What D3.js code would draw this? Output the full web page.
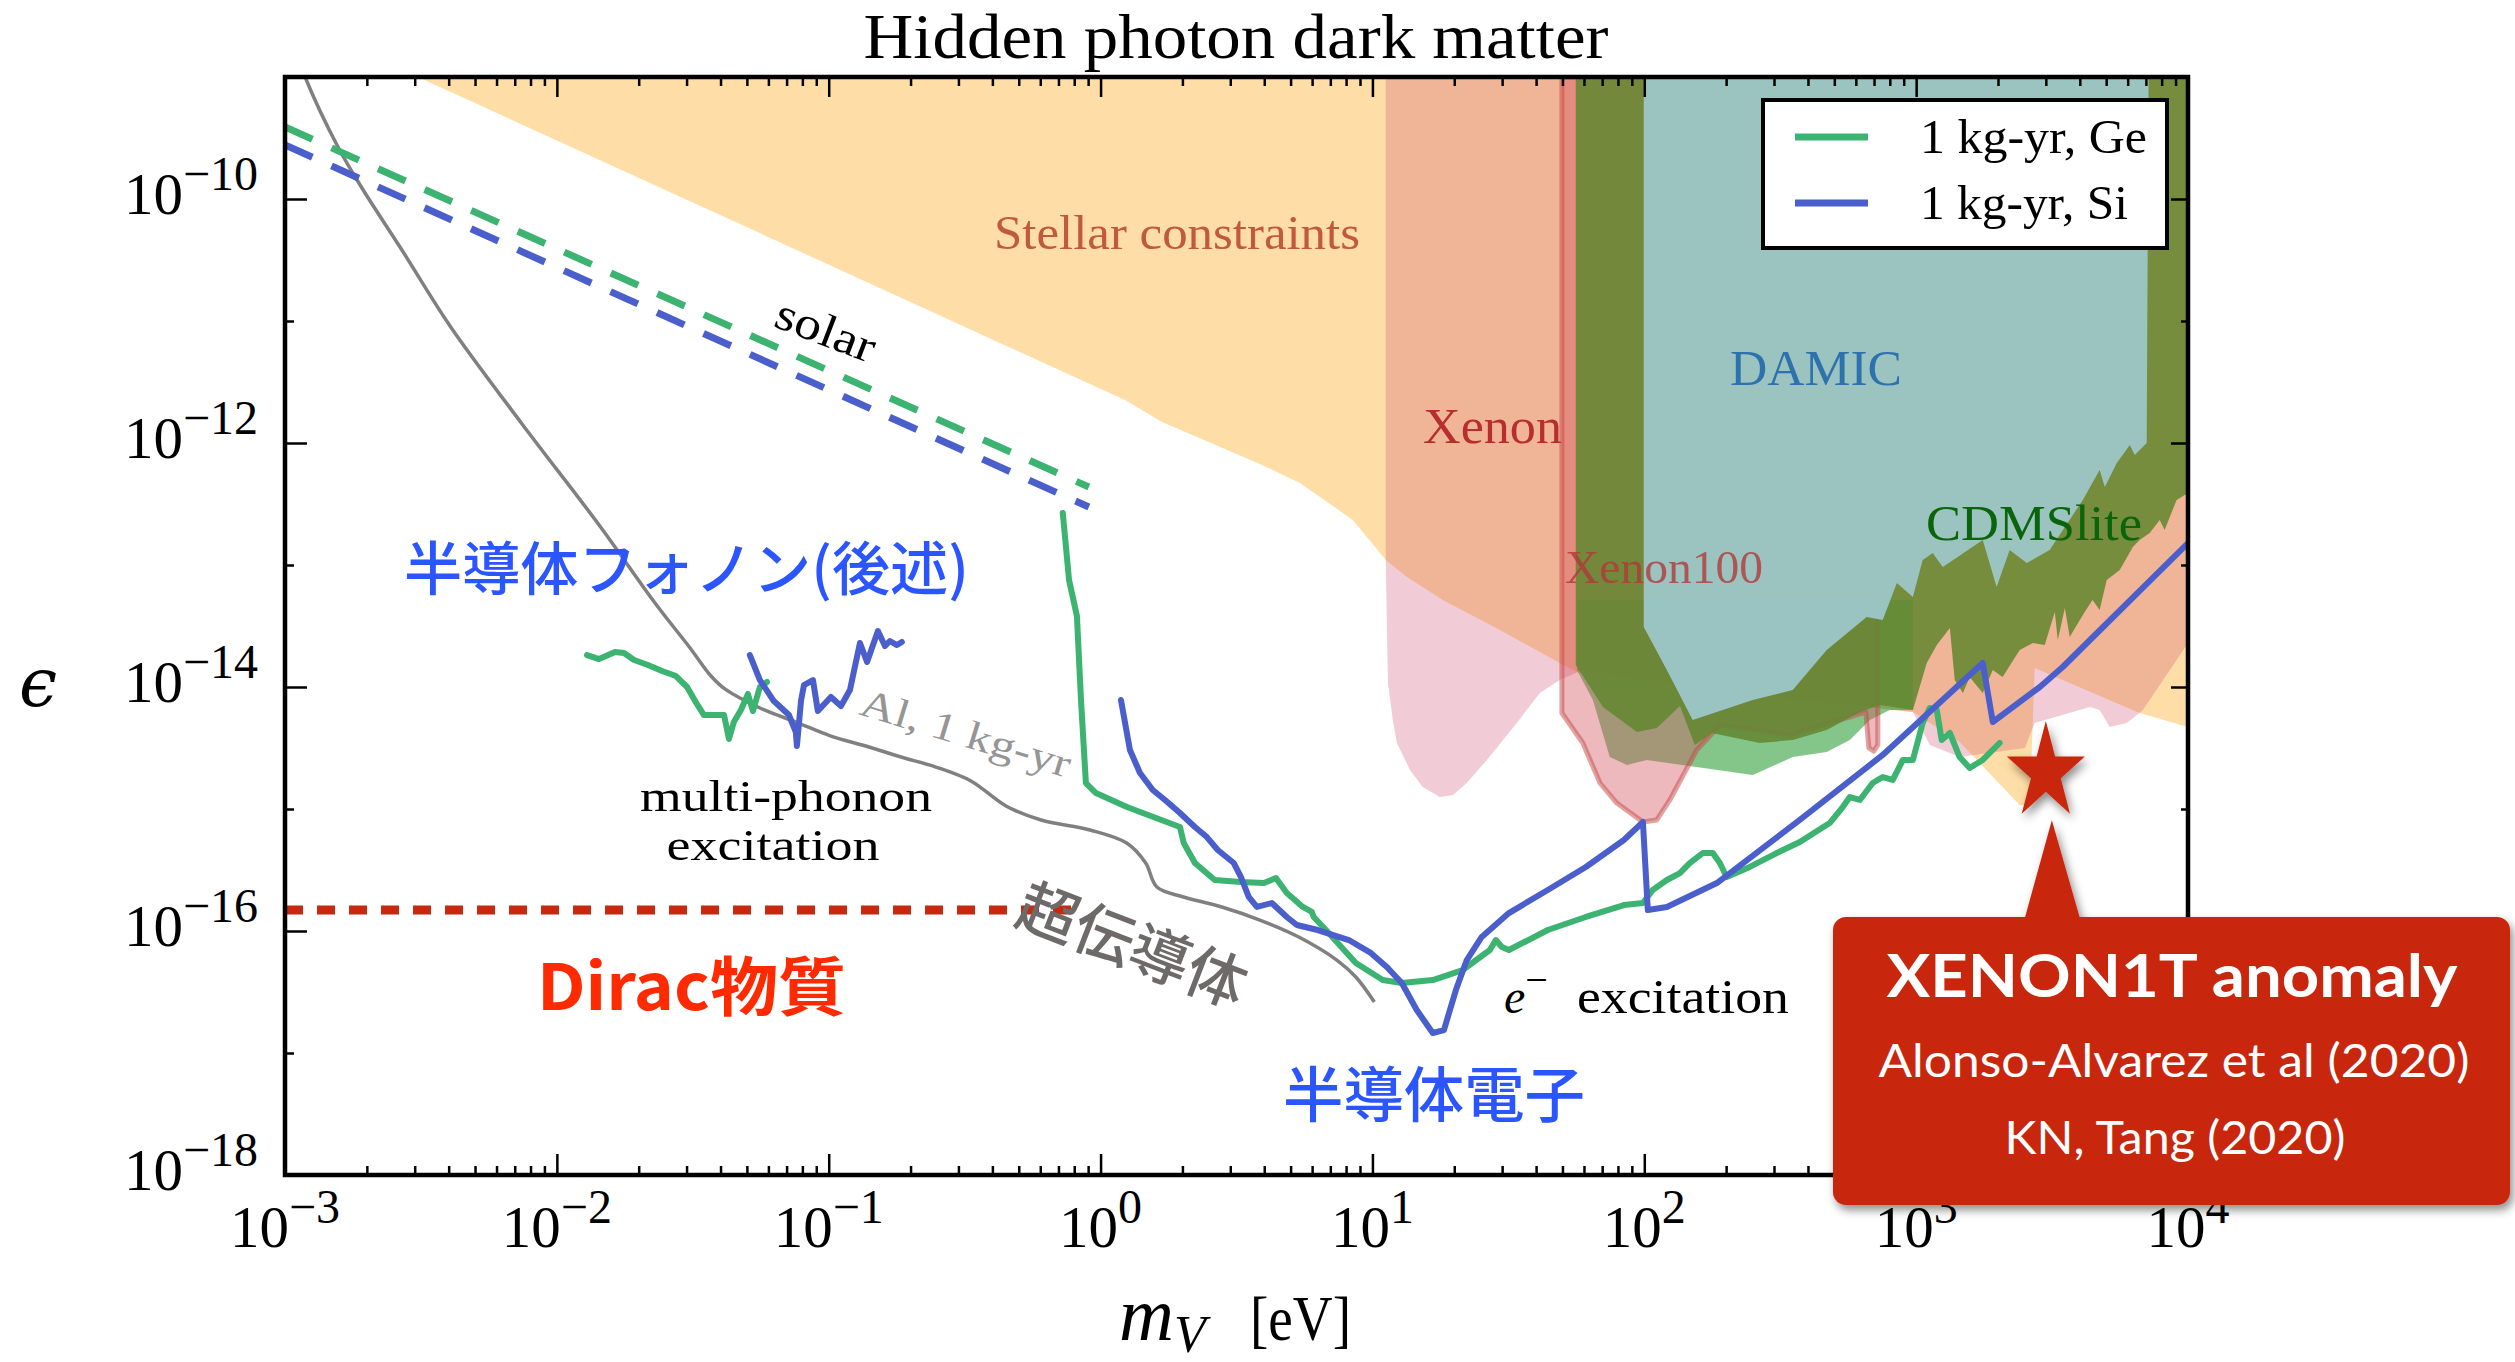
<!DOCTYPE html>
<html>
<head>
<meta charset="utf-8">
<script src="https://cdn.jsdelivr.net/npm/d3@7"></script>
<style>
  body { margin: 0; background: #fff; }
  svg { display: block; }
</style>
</head>
<body>
<svg id="chart" width="2515" height="1362"></svg>
<script>
// ---------------------------------------------------------------
// Hidden photon dark matter: kinetic mixing ε versus mass m_V.
// Every point below is a pair (log10 m_V [eV], log10 ε).
// ---------------------------------------------------------------

// Excluded regions
const stellarBound = [
  [-2.511, -9.000], [0.090, -11.648], [0.226, -11.828], [0.586, -12.172],
  [0.733, -12.328], [0.781, -12.402], [0.928, -12.631], [1.049, -12.959],
  [1.127, -13.098], [1.259, -13.287], [1.469, -13.533], [1.689, -13.803],
  [1.752, -13.877], [2.204, -14.025], [2.572, -14.107], [2.988, -14.205],
  [3.160, -14.451], [3.381, -14.967], [3.418, -14.967], [3.436, -13.844],
  [3.822, -14.213], [4.000, -14.328], [4.000, -9.000]
];
const xenonBound = [
  [1.049, -9.000], [1.049, -12.959], [1.057, -13.967], [1.075, -14.271],
  [1.090, -14.459], [1.138, -14.680], [1.185, -14.820], [1.248, -14.902],
  [1.296, -14.885], [1.347, -14.787], [1.421, -14.598], [1.531, -14.295],
  [1.616, -14.049], [1.689, -13.943], [1.774, -13.861], [2.020, -13.943],
  [2.388, -14.066], [2.756, -14.148], [2.988, -14.205], [3.050, -14.475],
  [3.160, -14.574], [3.400, -14.500], [3.436, -14.295], [3.639, -14.164],
  [3.675, -14.189], [3.712, -14.328], [3.775, -14.295], [3.834, -14.189],
  [4.000, -13.639], [4.000, -9.000]
];
const xenon100Bound = [
  [1.697, -9.000], [1.697, -14.213], [1.774, -14.459], [1.837, -14.787],
  [1.899, -14.951], [1.995, -15.107], [2.046, -15.090], [2.094, -14.926],
  [2.193, -14.516], [2.278, -14.311], [2.535, -14.393], [2.815, -14.205],
  [2.826, -14.500], [2.844, -14.525], [2.859, -14.475], [2.859, -9.000]
];
const geLightBound = [
  [1.752, -13.287], [1.752, -13.861], [1.811, -14.107], [1.873, -14.574],
  [1.936, -14.639], [2.009, -14.598], [2.399, -14.721], [2.546, -14.574],
  [2.671, -14.533], [2.756, -14.434], [2.830, -14.271], [2.903, -14.189],
  [2.988, -14.189], [2.988, -13.287]
];
const cdmsliteBound = [
  [1.748, -9.000], [1.748, -13.820], [1.848, -14.164], [1.973, -14.369],
  [2.046, -14.336], [2.131, -14.156], [2.186, -14.475], [2.248, -14.377],
  [2.425, -14.459], [2.546, -14.434], [2.671, -14.352], [2.793, -14.205],
  [2.866, -14.148], [2.988, -14.189], [3.039, -13.803], [3.076, -13.656],
  [3.124, -13.516], [3.142, -13.943], [3.172, -14.049], [3.197, -13.918],
  [3.245, -14.049], [3.282, -13.861], [3.318, -13.918], [3.381, -13.697],
  [3.429, -13.639], [3.473, -13.656], [3.510, -13.385], [3.521, -13.615],
  [3.547, -13.352], [3.565, -13.590], [3.591, -13.492], [3.620, -13.385],
  [3.649, -13.287], [3.675, -13.369], [3.701, -13.123], [3.749, -13.041],
  [3.797, -12.852], [3.822, -12.795], [3.859, -12.738], [3.896, -12.631],
  [3.914, -12.713], [3.958, -12.467], [4.000, -12.410], [4.000, -9.000]
];
const damicBound = [
  [1.998, -9.000], [1.998, -13.508], [2.083, -13.861], [2.178, -14.271],
  [2.399, -14.107], [2.546, -14.025], [2.671, -13.697], [2.818, -13.426],
  [2.877, -13.451], [2.929, -13.148], [2.988, -13.262], [3.024, -12.959],
  [3.061, -12.902], [3.098, -13.016], [3.245, -12.795], [3.296, -13.180],
  [3.344, -12.877], [3.407, -12.984], [3.491, -12.877], [3.613, -12.467],
  [3.675, -12.221], [3.694, -12.361], [3.738, -12.164], [3.786, -12.016],
  [3.804, -12.098], [3.848, -12.000], [3.855, -9.000]
];

// Projected reach and reference curves
const alCurve = [
  [-2.960, -8.780], [-2.926, -9.000], [-2.805, -9.574], [-2.717, -9.910],
  [-2.570, -10.418], [-2.393, -11.041], [-2.128, -11.844], [-1.842, -12.680],
  [-1.639, -13.311], [-1.510, -13.680], [-1.433, -13.910], [-1.382, -14.016],
  [-1.253, -14.172], [-1.121, -14.287], [-0.992, -14.402], [-0.864, -14.484],
  [-0.734, -14.574], [-0.606, -14.656], [-0.477, -14.770], [-0.348, -14.975],
  [-0.219, -15.090], [-0.039, -15.172], [0.096, -15.279], [0.166, -15.443],
  [0.207, -15.639], [0.305, -15.721], [0.446, -15.803], [0.586, -15.910],
  [0.729, -16.049], [0.869, -16.238], [0.939, -16.377], [1.007, -16.582]
];
const solarGe = [[-3.000, -9.410], [-0.043, -12.361]];
const solarSi = [[-3.000, -9.557], [-0.043, -12.525]];
const diracReach = [[-3.000, -15.828], [-0.076, -15.828]];

const gePhonon = [
  [-1.889, -13.738], [-1.845, -13.771], [-1.786, -13.713], [-1.753, -13.721],
  [-1.716, -13.779], [-1.665, -13.820], [-1.613, -13.869], [-1.562, -13.910],
  [-1.521, -14.000], [-1.485, -14.139], [-1.459, -14.230], [-1.418, -14.230],
  [-1.385, -14.230], [-1.367, -14.426], [-1.349, -14.287], [-1.323, -14.189],
  [-1.297, -14.057], [-1.279, -14.197], [-1.253, -14.000], [-1.227, -13.959]
];
const siPhonon = [
  [-1.290, -13.738], [-1.253, -13.943], [-1.202, -14.115], [-1.146, -14.230],
  [-1.121, -14.369], [-1.117, -14.484], [-1.102, -14.115], [-1.091, -13.984],
  [-1.058, -13.943], [-1.040, -14.197], [-0.992, -14.082], [-0.955, -14.156],
  [-0.922, -14.025], [-0.885, -13.639], [-0.859, -13.795], [-0.819, -13.541],
  [-0.793, -13.664], [-0.775, -13.623], [-0.749, -13.656], [-0.731, -13.631]
];
const geElectron = [
  [-0.139, -12.574], [-0.116, -13.123], [-0.087, -13.418], [-0.072, -14.107],
  [-0.054, -14.787], [-0.017, -14.869], [0.097, -14.984], [0.292, -15.148],
  [0.306, -15.279], [0.347, -15.443], [0.420, -15.582], [0.516, -15.598],
  [0.601, -15.607], [0.645, -15.566], [0.685, -15.689], [0.744, -15.803],
  [0.777, -15.844], [0.784, -15.885], [0.829, -15.992], [0.939, -16.262],
  [1.038, -16.402], [1.108, -16.426], [1.222, -16.402], [1.332, -16.320],
  [1.432, -16.156], [1.454, -16.074], [1.476, -16.131], [1.502, -16.156],
  [1.645, -15.992], [1.785, -15.885], [1.925, -15.787], [1.995, -15.771],
  [2.031, -15.664], [2.083, -15.582], [2.131, -15.525], [2.167, -15.443],
  [2.215, -15.361], [2.252, -15.361], [2.278, -15.443], [2.303, -15.557],
  [2.388, -15.475], [2.487, -15.361], [2.572, -15.271], [2.682, -15.115],
  [2.730, -14.984], [2.756, -14.902], [2.793, -14.926], [2.840, -14.787],
  [2.877, -14.738], [2.914, -14.762], [2.951, -14.598], [2.988, -14.598],
  [3.024, -14.295], [3.050, -14.172], [3.076, -14.189], [3.094, -14.434],
  [3.124, -14.377], [3.160, -14.574], [3.197, -14.664], [3.245, -14.598],
  [3.307, -14.459]
];
const siElectron = [
  [0.075, -14.107], [0.108, -14.516], [0.145, -14.705], [0.192, -14.844],
  [0.237, -14.926], [0.292, -15.033], [0.347, -15.148], [0.391, -15.230],
  [0.431, -15.336], [0.490, -15.443], [0.516, -15.557], [0.545, -15.721],
  [0.575, -15.803], [0.630, -15.771], [0.685, -15.885], [0.722, -15.951],
  [0.799, -15.992], [0.913, -16.074], [0.994, -16.180], [1.053, -16.295],
  [1.108, -16.426], [1.163, -16.648], [1.222, -16.836], [1.263, -16.812],
  [1.307, -16.484], [1.347, -16.238], [1.402, -16.049], [1.502, -15.853],
  [1.645, -15.664], [1.785, -15.475], [1.925, -15.254], [1.995, -15.107],
  [2.013, -15.828], [2.083, -15.803], [2.267, -15.607], [2.572, -15.090],
  [2.877, -14.557], [3.245, -13.803], [3.282, -14.287], [3.455, -14.000],
  [3.539, -13.836], [4.000, -12.820]
];

// XENON1T anomaly marker (m_V in eV, ε)
const anomaly = { mass: 3.0e3, eps: 2.0e-15 };

// Axis ticks (powers of ten)
const xTickExps = [-3, -2, -1, 0, 1, 2, 3, 4];
const xMinorFactors = [2, 3, 4, 5, 6, 7, 8, 9];
const yTickExps = [-18, -16, -14, -12, -10];
const yMinorExps = [-17, -15, -13, -11, -9];

const legendItems = [
  { label: "1 kg-yr, Ge", color: "#3cb371", len: 227 },
  { label: "1 kg-yr, Si", color: "#4a5fcc", len: 208 }
];

// ---------------------------------------------------------------
const svg = d3.select("#chart");
const L = 285, R = 2188, T = 77, B = 1175;
const x = d3.scaleLog().domain([1e-3, 1e4]).range([L, R]);
const y = d3.scaleLog().domain([1e-18, 1e-9]).range([B, T]);
const X = d => x(Math.pow(10, d[0]));
const Y = d => y(Math.pow(10, d[1]));
const line = d3.line().x(X).y(Y);
const smooth = d3.line().x(X).y(Y).curve(d3.curveCatmullRom.alpha(0.5));
const area = pts => line(pts) + "Z";

const serif = "'Liberation Serif', 'DejaVu Serif', serif";
const cjk = "'Noto Sans CJK JP', 'Noto Sans', sans-serif";
const sans = "Lato, 'Open Sans', sans-serif";

const defs = svg.append("defs");
defs.append("clipPath").attr("id", "plotClip")
  .append("rect").attr("x", L).attr("y", T).attr("width", R - L).attr("height", B - T);
const sh = defs.append("filter").attr("id", "shadow")
  .attr("x", "-20%").attr("y", "-20%").attr("width", "140%").attr("height", "150%");
sh.append("feDropShadow").attr("dx", 3).attr("dy", 5).attr("stdDeviation", 5)
  .attr("flood-color", "#000").attr("flood-opacity", 0.45);

// ---------------- regions ----------------
const regions = svg.append("g").attr("clip-path", "url(#plotClip)");
regions.append("path").attr("d", area(stellarBound)).attr("fill", "#fedea6");
regions.append("path").attr("d", area(xenonBound)).attr("fill", "rgba(205,72,112,0.28)");
regions.append("path").attr("d", area(geLightBound)).attr("fill", "rgba(50,160,60,0.6)");
regions.append("path").attr("d", area(xenon100Bound))
  .attr("fill", "rgba(210,80,90,0.4)")
  .attr("stroke", "rgba(200,70,70,0.5)").attr("stroke-width", 5)
  .attr("stroke-linejoin", "round");
regions.append("path").attr("d", area(cdmsliteBound)).attr("fill", "rgba(100,135,50,0.88)");
regions.append("path").attr("d", area(damicBound)).attr("fill", "rgba(157,199,200,0.95)");

// region labels
const rl = svg.append("g").attr("font-family", serif);
function label(g, txt, px, py, size, color, len, extra) {
  const t = g.append("text").attr("x", px).attr("y", py)
    .attr("font-size", size).attr("fill", color).text(txt);
  if (len) t.attr("textLength", len).attr("lengthAdjust", "spacingAndGlyphs");
  if (extra) extra(t);
  return t;
}
label(rl, "Stellar constraints", 994, 249, 48, "#c1593b", 366);
label(rl, "Xenon", 1423, 443, 50, "#b82e2e", 139);
label(rl, "Xenon100", 1565, 583, 46, "#b03a3a", 198, t => t.attr("opacity", 0.8));
label(rl, "DAMIC", 1730, 385, 50, "#2e72ad", 172);
label(rl, "CDMSlite", 1926, 540, 50, "#0a640a", 216);

// ---------------- curves ----------------
const curves = svg.append("g").attr("clip-path", "url(#plotClip)")
  .attr("fill", "none").attr("stroke-linejoin", "round");
curves.append("path").attr("d", smooth(alCurve)).attr("stroke", "#808080").attr("stroke-width", 3.5);
curves.append("path").attr("d", line(solarGe)).attr("stroke", "#3cb371")
  .attr("stroke-width", 7).attr("stroke-dasharray", "30,21");
curves.append("path").attr("d", line(solarSi)).attr("stroke", "#4a5fcc")
  .attr("stroke-width", 7).attr("stroke-dasharray", "30,21");
curves.append("path").attr("d", line(diracReach)).attr("stroke", "#c8280f")
  .attr("stroke-width", 9).attr("stroke-dasharray", "18,14");
[[gePhonon, "#3cb371"], [geElectron, "#3cb371"], [siPhonon, "#4a5fcc"], [siElectron, "#4a5fcc"]]
  .forEach(([d, c]) => curves.append("path").attr("d", line(d))
    .attr("stroke", c).attr("stroke-width", 6).attr("stroke-linecap", "round"));

// ---------------- axes ----------------
const xMajor = xTickExps.map(e => Math.pow(10, e));
const xMinor = xTickExps.slice(0, -1).flatMap(e => xMinorFactors.map(f => f * Math.pow(10, e)));
const yMajor = yTickExps.map(e => Math.pow(10, e));
const yMinor = yMinorExps.map(e => Math.pow(10, e));

function axisGroup(gen, tr, vals, size) {
  const g = svg.append("g").attr("transform", tr)
    .call(gen.tickValues(vals).tickSize(size).tickSizeOuter(0).tickFormat(""));
  g.select(".domain").remove();
  g.selectAll(".tick line").attr("stroke", "#000").attr("stroke-width", 2.5);
}
axisGroup(d3.axisBottom(x), `translate(0,${B})`, xMajor, -21);
axisGroup(d3.axisBottom(x), `translate(0,${B})`, xMinor, -9);
axisGroup(d3.axisTop(x), `translate(0,${T})`, xMajor, -20);
axisGroup(d3.axisTop(x), `translate(0,${T})`, xMinor, -9);
axisGroup(d3.axisLeft(y), `translate(${L},0)`, yMajor, -22);
axisGroup(d3.axisLeft(y), `translate(${L},0)`, yMinor, -9);
axisGroup(d3.axisRight(y), `translate(${R},0)`, yMajor, -17);
axisGroup(d3.axisRight(y), `translate(${R},0)`, yMinor, -7);

svg.append("rect").attr("x", L).attr("y", T).attr("width", R - L).attr("height", B - T)
  .attr("fill", "none").attr("stroke", "#000").attr("stroke-width", 4.5);

// tick labels
const tl = svg.append("g").attr("font-family", serif).attr("fill", "#000");
xTickExps.forEach(e => {
  const t = tl.append("text").attr("x", x(Math.pow(10, e))).attr("y", 1247)
    .attr("text-anchor", "middle").attr("font-size", 59);
  t.append("tspan").text("10");
  t.append("tspan").attr("dy", -24).attr("font-size", 48)
    .text(e < 0 ? "\u2212" + (-e) : String(e));
});
yTickExps.forEach(e => {
  const t = tl.append("text").attr("x", 258).attr("y", y(Math.pow(10, e)) + 15)
    .attr("text-anchor", "end").attr("font-size", 59);
  t.append("tspan").text("10");
  t.append("tspan").attr("dy", -24).attr("font-size", 48).text("\u2212" + (-e));
});

// axis titles and plot title
svg.append("text").attr("x", 1236).attr("y", 58).attr("text-anchor", "middle")
  .attr("font-family", serif).attr("font-size", 64)
  .attr("textLength", 745).attr("lengthAdjust", "spacingAndGlyphs")
  .text("Hidden photon dark matter");
svg.append("text").attr("x", 38).attr("y", 706).attr("text-anchor", "middle")
  .attr("font-family", "'DejaVu Serif', serif").attr("font-style", "italic")
  .attr("font-size", 68).text("\u03f5");
const xt = svg.append("text").attr("y", 1340).attr("font-family", serif).attr("font-size", 64);
xt.append("tspan").attr("x", 1119).attr("font-style", "italic").attr("font-size", 76).text("m");
xt.append("tspan").attr("dy", 12).attr("font-size", 52).attr("font-style", "italic").text("V");
xt.append("tspan").attr("x", 1250).attr("y", 1340)
  .attr("textLength", 101).attr("lengthAdjust", "spacingAndGlyphs").text("[eV]");

// ---------------- annotations ----------------
const an = svg.append("g");
function rotLabel(txt, cx, cy, ang, size, color, font, len, weight) {
  const t = an.append("text")
    .attr("transform", `translate(${cx},${cy}) rotate(${ang})`)
    .attr("text-anchor", "middle").attr("dominant-baseline", "central")
    .attr("font-family", font).attr("font-size", size).attr("fill", color).text(txt);
  if (len) t.attr("textLength", len).attr("lengthAdjust", "spacingAndGlyphs");
  if (weight) t.attr("font-weight", weight);
  return t;
}
rotLabel("solar", 826, 330, 21, 46, "#000", serif, 104);
rotLabel("Al, 1 kg-yr", 966, 733, 17, 40, "#959595", serif, 218);
rotLabel("超伝導体", 1134, 941, 21, 60, "#6e6a6a", cjk, null, 500);

// two-line label for the multi-phonon reach
label(an, "multi-phonon", 786, 811, 45, "#000", 292, t => t.attr("text-anchor", "middle"));
label(an, "excitation", 773, 860, 45, "#000", 213, t => t.attr("text-anchor", "middle"));

const ex = an.append("text").attr("y", 1013).attr("font-family", serif).attr("font-size", 48);
ex.append("tspan").attr("x", 1504).attr("font-style", "italic").text("e");
ex.append("tspan").attr("dy", -20).attr("font-size", 40).text("\u2212");
ex.append("tspan").attr("x", 1577).attr("y", 1013)
  .attr("textLength", 212).attr("lengthAdjust", "spacingAndGlyphs").text("excitation");

an.append("text").attr("x", 404).attr("y", 590).attr("font-family", cjk)
  .attr("font-size", 58).attr("font-weight", 500).attr("fill", "#2a55ff")
  .attr("textLength", 565).attr("lengthAdjust", "spacingAndGlyphs").text("半導体フォノン(後述)");
an.append("text").attr("x", 1283).attr("y", 1117).attr("font-family", cjk)
  .attr("font-size", 60).attr("font-weight", 500).attr("fill", "#2a55ff")
  .attr("textLength", 302).attr("lengthAdjust", "spacingAndGlyphs").text("半導体電子");
an.append("text").attr("x", 537).attr("y", 1010).attr("font-family", cjk)
  .attr("font-size", 64).attr("font-weight", 700).attr("fill", "#ff2a00")
  .attr("textLength", 309).attr("lengthAdjust", "spacingAndGlyphs").text("Dirac物質");

// ---------------- legend ----------------
const lg = svg.append("g");
lg.append("rect").attr("x", 1763).attr("y", 100).attr("width", 404).attr("height", 148)
  .attr("fill", "#fff").attr("stroke", "#000").attr("stroke-width", 4);
legendItems.forEach((d, i) => {
  const ly = 137 + i * 66;
  lg.append("line").attr("x1", 1795).attr("x2", 1868).attr("y1", ly).attr("y2", ly)
    .attr("stroke", d.color).attr("stroke-width", 7);
  lg.append("text").attr("x", 1920).attr("y", ly + 16).attr("font-family", serif)
    .attr("font-size", 48).attr("textLength", d.len).attr("lengthAdjust", "spacingAndGlyphs")
    .text(d.label);
});

// ---------------- XENON1T call-out ----------------
const sx = x(anomaly.mass), sy = y(anomaly.eps);
const callout = svg.append("g").attr("filter", "url(#shadow)");
callout.append("path")
  .attr("d", d3.symbol().type(d3.symbolStar).size(1890)())
  .attr("transform", `translate(${sx},${sy}) scale(1,1.25)`)
  .attr("fill", "#c8250a");
const boxG = svg.append("g").attr("filter", "url(#shadow)");
boxG.append("rect").attr("x", 1833).attr("y", 917).attr("width", 677).attr("height", 288)
  .attr("rx", 13).attr("fill", "#c8260b");
boxG.append("path")
  .attr("d", `M${sx - 21},918 L${sx + 6},${sy + 48} L${sx + 34},918 Z`)
  .attr("fill", "#c8260b");
const bt = svg.append("g").attr("font-family", sans).attr("fill", "#fff").attr("text-anchor", "middle");
bt.append("text").attr("x", 2172).attr("y", 997).attr("font-size", 60).attr("font-weight", 700)
  .attr("textLength", 571).attr("lengthAdjust", "spacingAndGlyphs").text("XENON1T anomaly");
bt.append("text").attr("x", 2174).attr("y", 1077).attr("font-size", 46)
  .attr("textLength", 591).attr("lengthAdjust", "spacingAndGlyphs").text("Alonso-Alvarez et al (2020)");
bt.append("text").attr("x", 2175).attr("y", 1154).attr("font-size", 46)
  .attr("textLength", 341).attr("lengthAdjust", "spacingAndGlyphs").text("KN, Tang (2020)");
</script>
</body>
</html>
